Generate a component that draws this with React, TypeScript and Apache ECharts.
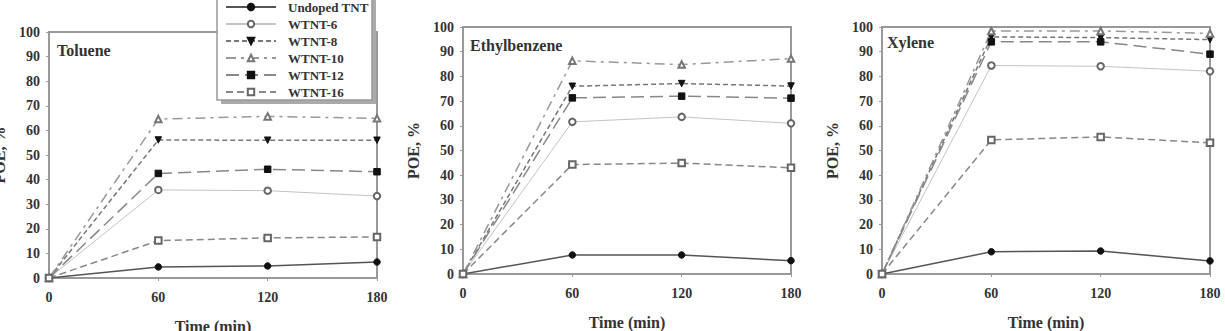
import React, { useEffect, useRef } from "react";
import * as echarts from "echarts";

const times = [0, 60, 120, 180];
const seriesNames = ["Undoped TNT", "WTNT-6", "WTNT-8", "WTNT-10", "WTNT-12", "WTNT-16"];
const panelTitles = ["Toluene", "Ethylbenzene", "Xylene"];
const yTicks = { min: 0, max: 100, interval: 10 };
const xTicks = { min: 0, max: 180, interval: 60 };

// rows follow seriesNames order
const toluene = [
  [0, 4.5, 4.9, 6.5],
  [0, 35.8, 35.5, 33.3],
  [0, 56.1, 56.0, 56.0],
  [0, 64.6, 65.7, 64.9],
  [0, 42.5, 44.2, 43.2],
  [0, 15.2, 16.3, 16.7],
];
const ethylbenzene = [
  [0, 7.7, 7.7, 5.4],
  [0, 61.6, 63.6, 61.0],
  [0, 76.0, 77.1, 76.1],
  [0, 86.3, 84.8, 87.2],
  [0, 71.3, 72.0, 71.2],
  [0, 44.3, 44.9, 43.0],
];
const xylene = [
  [0, 9.0, 9.3, 5.3],
  [0, 84.4, 84.1, 82.1],
  [0, 96.0, 95.7, 94.9],
  [0, 98.4, 98.4, 97.4],
  [0, 94.0, 94.0, 89.0],
  [0, 54.3, 55.5, 53.1],
];

const styles = [
  { symbol: "circle", rotate: 0, itemColor: "#111", lineColor: "#555", lineType: "solid" as any, width: 1.5 },
  { symbol: "emptyCircle", rotate: 0, itemColor: "#666", lineColor: "#c4c4c4", lineType: "solid" as any, width: 1 },
  { symbol: "triangle", rotate: 180, itemColor: "#111", lineColor: "#777", lineType: [5, 3] as any, width: 1.5 },
  { symbol: "emptyTriangle", rotate: 0, itemColor: "#777", lineColor: "#999", lineType: [10, 5, 3, 5] as any, width: 1.5 },
  { symbol: "rect", rotate: 0, itemColor: "#111", lineColor: "#888", lineType: [13, 6] as any, width: 1.5 },
  { symbol: "emptyRect", rotate: 0, itemColor: "#666", lineColor: "#888", lineType: [7, 4] as any, width: 1.5 },
];

const FONT = "'Liberation Serif', 'Times New Roman', serif";

const grids = [
  { left: 49, top: 32, width: 328, height: 246 },
  { left: 463, top: 27, width: 328, height: 247 },
  { left: 882, top: 27, width: 328, height: 247 },
];
const titlePos = [
  { left: 57, top: 42 },
  { left: 470, top: 37 },
  { left: 887, top: 34 },
];

export default function App() {
  const ref = useRef<HTMLDivElement>(null);
  useEffect(() => {
    if (!ref.current) return;
    const chart = echarts.init(ref.current, undefined, { renderer: "svg" });
    const panels = [toluene, ethylbenzene, xylene];
    const series: any[] = [];
    panels.forEach((panel, gi) => {
      panel.forEach((vals, si) => {
        const st = styles[si];
        series.push({
          type: "line",
          name: seriesNames[si],
          xAxisIndex: gi,
          yAxisIndex: gi,
          data: times.map((t, i) => [t, vals[i]]),
          symbol: st.symbol,
          symbolRotate: st.rotate,
          symbolSize: 6.5,
          clip: false,
          itemStyle: { color: st.itemColor, borderColor: st.itemColor, borderWidth: 1 },
          lineStyle: { color: st.lineColor, type: st.lineType, width: st.width },
          emphasis: { disabled: true },
        });
      });
    });
    const axisLabel = { fontFamily: FONT, fontWeight: "bold", fontSize: 14, color: "#333" };
    const nameStyle = { fontFamily: FONT, fontWeight: "bold", fontSize: 16, color: "#333" };
    chart.setOption({
      animation: false,
      backgroundColor: "#fff",
      title: panelTitles.map((t, i) => ({
        text: t,
        left: titlePos[i].left,
        top: titlePos[i].top,
        padding: 0,
        textStyle: { fontFamily: FONT, fontWeight: "bold", fontSize: 16, color: "#333" },
      })),
      grid: grids.map((g) => ({
        ...g,
        outerBoundsMode: "none",
        containLabel: false,
        show: true,
        borderColor: "#999",
        borderWidth: 2,
        backgroundColor: "transparent",
      })),
      xAxis: grids.map((_, i) => ({
        type: "value",
        gridIndex: i,
        min: xTicks.min,
        max: xTicks.max,
        interval: xTicks.interval,
        name: "Time (min)",
        nameLocation: "middle",
        nameGap: 40,
        nameTextStyle: nameStyle,
        axisLine: { show: true, lineStyle: { color: "#999", width: 2 } },
        axisTick: { show: true, length: 3, lineStyle: { color: "#999" } },
        axisLabel: { ...axisLabel, margin: 12 },
        splitLine: { show: false },
      })),
      yAxis: grids.map((_, i) => ({
        type: "value",
        gridIndex: i,
        min: yTicks.min,
        max: yTicks.max,
        interval: yTicks.interval,
        name: "POE, %",
        nameLocation: "middle",
        nameGap: 42,
        nameTextStyle: nameStyle,
        axisLine: { show: true, lineStyle: { color: "#999", width: 2 } },
        axisTick: { show: true, length: 3, lineStyle: { color: "#999" } },
        axisLabel: { ...axisLabel, margin: 9 },
        splitLine: { show: false },
      })),
      legend: {
        data: seriesNames,
        orient: "vertical",
        left: 225,
        top: 0,
        padding: 0,
        itemWidth: 50,
        itemHeight: 8,
        itemGap: 3,
        z: 20,
        selectedMode: false,
        textStyle: {
          fontFamily: FONT,
          fontWeight: "bold",
          fontSize: 13,
          color: "#333",
          lineHeight: 14,
          padding: [0, 0, 0, 7],
        },
      },
      graphic: [
        {
          type: "rect",
          z: 10,
          shape: { x: 221, y: -2, width: 155, height: 106 },
          style: { fill: "#aaa" },
        },
        {
          type: "rect",
          z: 11,
          shape: { x: 217, y: -4, width: 155, height: 104 },
          style: { fill: "#fff", stroke: "#999", lineWidth: 1.5 },
        },
      ],
      series,
    });
    return () => chart.dispose();
  }, []);
  return (
    <div
      ref={ref}
      style={{ position: "fixed", left: 0, top: 0, width: 1225, height: 331, background: "#fff" }}
    />
  );
}
